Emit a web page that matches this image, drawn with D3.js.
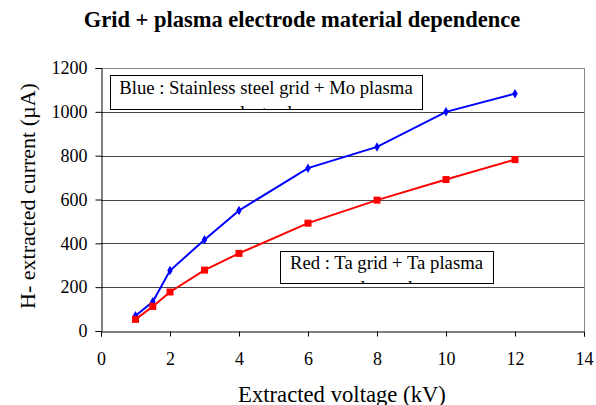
<!DOCTYPE html>
<html><head><meta charset="utf-8">
<script src="https://cdn.jsdelivr.net/npm/d3@7"></script>
<style>body{margin:0;background:#fff;} svg{display:block;} text{font-family:"Liberation Serif","Times New Roman",Times,"DejaVu Serif",serif;}</style>
</head><body>
<svg id="c" width="596" height="405"></svg>
<script>
const title = "Grid + plasma electrode material dependence";
const xLabel = "Extracted voltage (kV)";
const yLabel = "H- extracted current (\u00b5A)";
const voltage = [1, 1.5, 2, 3, 4, 6, 8, 10, 12];
const blueCurrent = [70, 133, 276, 416, 550, 743, 840, 1000, 1083];
const redCurrent = [53, 112, 178, 278, 354, 492, 597, 691, 782];
const xTicks = [0, 2, 4, 6, 8, 10, 12, 14];
const yTicks = [0, 200, 400, 600, 800, 1000, 1200];
const blueNote = ["Blue : Stainless steel grid + Mo plasma", "electrode"];
const redNote = ["Red : Ta grid + Ta plasma", "electrode"];

const svg = d3.select("#c");
const L = 101, R = 584, T = 68, B = 331;
const x = d3.scaleLinear().domain([0, 14]).range([L, R]);
const y = d3.scaleLinear().domain([0, 1200]).range([B, T]);

svg.append("text").attr("x", 302).attr("y", 27).attr("text-anchor", "middle")
  .attr("font-weight", "bold").attr("font-size", 22.5).text(title);

// grid
svg.append("g").selectAll("line").data(yTicks.filter(d => d > 0)).join("line")
  .attr("x1", L).attr("x2", R).attr("y1", d => Math.round(y(d)) + 0.5).attr("y2", d => Math.round(y(d)) + 0.5)
  .attr("stroke", d => d === 1200 ? "#888" : "#444").attr("stroke-width", 1);
svg.append("line").attr("x1", R + 0.5).attr("x2", R + 0.5).attr("y1", T).attr("y2", B)
  .attr("stroke", "#888");

// axes
const xa = svg.append("g").attr("transform", `translate(0,${Math.round(B) + 0.5})`)
  .call(d3.axisBottom(x).tickValues(xTicks).tickSize(5).tickPadding(16).tickFormat(d3.format("d")));
const ya = svg.append("g").attr("transform", `translate(${L + 0.5},0)`)
  .call(d3.axisLeft(y).tickValues(yTicks).tickSize(6).tickPadding(8).tickFormat(d3.format("d")));
[xa, ya].forEach(a => {
  a.attr("font-family", null);
  a.select(".domain").attr("stroke", "#000");
  a.selectAll(".tick line").attr("stroke", "#000");
  a.selectAll("text").attr("font-size", 18).attr("fill", "#000");
});

svg.append("text").attr("x", 342).attr("y", 401.5).attr("text-anchor", "middle")
  .attr("font-size", 22.7).text(xLabel);
svg.append("text").attr("transform", "translate(35,196) rotate(-90)").attr("text-anchor", "middle")
  .attr("font-size", 22).text(yLabel);

// series
function series(vals, color, marker) {
  const pts = voltage.map((v, i) => [v, vals[i]]);
  svg.append("path").datum(pts)
    .attr("d", d3.line().x(d => x(d[0])).y(d => y(d[1])))
    .attr("fill", "none").attr("stroke", color).attr("stroke-width", 2);
  const g = svg.append("g");
  if (marker === "square") {
    g.selectAll("rect").data(pts).join("rect")
      .attr("x", d => x(d[0]) - 3.5).attr("y", d => y(d[1]) - 3.5).attr("width", 7).attr("height", 7)
      .attr("fill", color);
  } else {
    g.selectAll("path").data(pts).join("path")
      .attr("d", d3.symbol(d3.symbolDiamond, 26))
      .attr("transform", d => `translate(${x(d[0])},${y(d[1])})`).attr("fill", color);
  }
}
series(blueCurrent, "#0000ff", "diamond");
series(redCurrent, "#ff0000", "square");

// notes
function note(lines, bx, by, bw, bh, id) {
  svg.append("clipPath").attr("id", id).append("rect")
    .attr("x", bx).attr("y", by).attr("width", bw).attr("height", bh);
  svg.append("rect").attr("x", bx + 0.5).attr("y", by + 0.5).attr("width", bw).attr("height", bh)
    .attr("fill", "#fff").attr("stroke", "#000").attr("stroke-width", 1);
  const t = svg.append("text").attr("clip-path", `url(#${id})`)
    .attr("font-size", 18.7).attr("text-anchor", "middle");
  lines.forEach((s, i) => t.append("tspan").attr("x", bx + bw / 2).attr("y", by + bh * 0.565 + i * 24.5).text(s));
}
note(blueNote, 110, 75, 312, 34, "cb");
note(redNote, 280, 251, 213, 32, "cr");
</script>
</body></html>
